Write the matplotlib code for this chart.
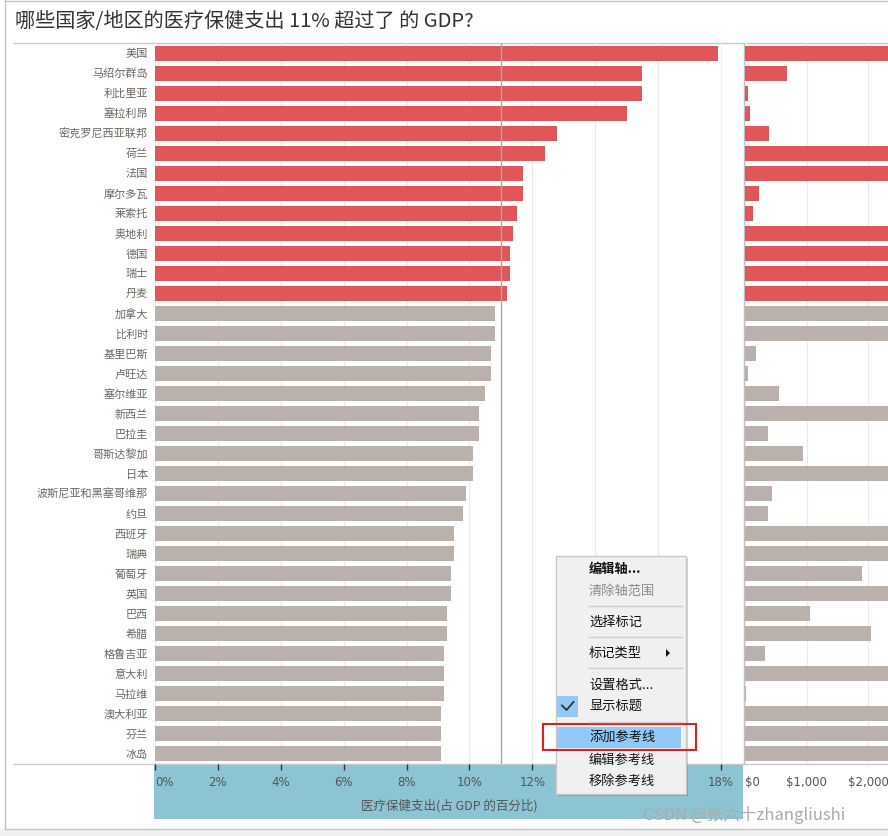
import matplotlib.pyplot as plt
from matplotlib.patches import Rectangle, Polygon
import numpy as np

plt.rcParams['font.family'] = ['Noto Sans CJK SC', 'DejaVu Sans']

# 国家/地区 (从上到下)
countries = ["美国", "马绍尔群岛", "利比里亚", "塞拉利昂", "密克罗尼西亚联邦", "荷兰",
             "法国", "摩尔多瓦", "莱索托", "奥地利", "德国", "瑞士", "丹麦", "加拿大",
             "比利时", "基里巴斯", "卢旺达", "塞尔维亚", "新西兰", "巴拉圭", "哥斯达黎加",
             "日本", "波斯尼亚和黑塞哥维那", "约旦", "西班牙", "瑞典", "葡萄牙", "英国",
             "巴西", "希腊", "格鲁吉亚", "意大利", "马拉维", "澳大利亚", "芬兰", "冰岛"]

# 医疗保健支出(占 GDP 的百分比)
pct_gdp = [17.9, 15.5, 15.5, 15.0, 12.8, 12.4, 11.7, 11.7, 11.5, 11.4, 11.3, 11.3,
           11.2, 10.8, 10.8, 10.7, 10.7, 10.5, 10.3, 10.3, 10.1, 10.1, 9.9, 9.8,
           9.5, 9.5, 9.4, 9.4, 9.3, 9.3, 9.2, 9.2, 9.2, 9.1, 9.1, 9.1]

# 人均医疗保健支出 (美元)
per_capita = [9403, 680, 54, 86, 394, 5202, 4959, 232, 135, 5039, 4819, 9674,
              6463, 5292, 4711, 184, 54, 556, 3554, 378, 945, 3703, 443, 378,
              2658, 6808, 1901, 3935, 1059, 2048, 330, 3258, 22, 6031, 4612, 4662]

threshold = 11
pct_ticks = [0, 2, 4, 6, 8, 10, 12, 14, 16, 18]
usd_ticks = [0, 1000, 2000]

RED = "#e15759"
GRAY = "#bab0ac"
W, H = 888, 836

fig = plt.figure(figsize=(W / 100, H / 100), dpi=100)


def box(x0, y0, x1, y1):
    return [x0 / W, 1 - y1 / H, (x1 - x0) / W, (y1 - y0) / H]


# 背景层：边框、坐标轴蓝色底
bg = fig.add_axes([0, 0, 1, 1], zorder=-1)
bg.set_xlim(0, W)
bg.set_ylim(H, 0)
bg.axis("off")
bg.add_patch(Rectangle((0, 829), W, 7, color="#f0f0f0", lw=0))
bg.plot([4.5, 4.5], [0, 828.5], color="#c4c4c4", lw=1)
bg.plot([4.5, W], [828.5, 828.5], color="#c4c4c4", lw=1)
bg.plot([4.5, W], [0.5, 0.5], color="#c4c4c4", lw=1)
bg.plot([14, W], [43, 43], color="#c8c8c8", lw=1)
bg.plot([14, W], [764, 764], color="#c8c8c8", lw=1)
bg.plot([744, 744], [43, 764], color="#c0c0c0", lw=1)
bg.add_patch(Rectangle((154, 765), 589, 54, color="#8cc4d4", lw=0))
bg.text(15, 21, "哪些国家/地区的医疗保健支出 11% 超过了 的 GDP?", fontsize=14.5,
        color="#333333", va="center", ha="left")

n = len(countries)
y = np.arange(n)
colors = [RED if v > threshold else GRAY for v in pct_gdp]

# 左侧：占 GDP 百分比
ax = fig.add_axes(box(155, 43, 743, 764))
ax.barh(y, pct_gdp, height=0.75, color=colors, zorder=2)
ax.axvline(threshold, color="#a8a8a8", lw=1, zorder=3)
ax.set_xlim(0, 18.7)
ax.set_ylim(n - 0.5, -0.5)
ax.set_xticks(pct_ticks)
# 14% 和 16% 被右键菜单挡住
ax.set_xticklabels(["" if t in (14, 16) else f"{t}%" for t in pct_ticks])
ax.set_yticks(y)
ax.set_yticklabels(countries)
ax.tick_params(axis="y", length=0, pad=5, labelsize=8, labelcolor="#6e6660")
ax.tick_params(axis="x", length=4, width=1, color="#333333", pad=5,
               labelsize=8.5, labelcolor="#555555")
for lab in ax.get_xticklabels():
    lab.set_fontfamily("DejaVu Sans")
ax.get_xticklabels()[0].set_ha("left")
ax.grid(axis="x", color="#ececec", lw=1, zorder=0)
ax.set_axisbelow(True)
for s in ax.spines.values():
    s.set_visible(False)
ax.patch.set_alpha(0)
ax.set_xlabel("医疗保健支出(占 GDP 的百分比)", fontsize=9, color="#555555", labelpad=7)

# 右侧：人均支出
ax2 = fig.add_axes(box(745, 43, 888, 764))
ax2.barh(y, per_capita, height=0.75, color=colors, zorder=2)
ax2.set_xlim(0, 2318)
ax2.set_ylim(n - 0.5, -0.5)
ax2.set_yticks([])
ax2.set_xticks(usd_ticks)
ax2.set_xticklabels(["$" + format(t, ",") for t in usd_ticks])
ax2.tick_params(axis="x", length=0, pad=9, labelsize=8.5, labelcolor="#555555")
for lab in ax2.get_xticklabels():
    lab.set_fontfamily("DejaVu Sans")
ax2.get_xticklabels()[0].set_ha("left")
ax2.grid(axis="x", color="#ececec", lw=1, zorder=0)
ax2.set_axisbelow(True)
for s in ax2.spines.values():
    s.set_visible(False)
ax2.patch.set_alpha(0)

# 前景层：右键菜单与水印
fg = fig.add_axes([0, 0, 1, 1], zorder=10)
fg.set_xlim(0, W)
fg.set_ylim(H, 0)
fg.axis("off")
fg.patch.set_alpha(0)
fg.add_patch(Rectangle((558, 558), 130, 238, color="#000000", alpha=0.18, lw=0))
fg.add_patch(Rectangle((555.5, 555.5), 130, 238, facecolor="#f0f0f0",
                       edgecolor="#c8c8c8", lw=1))
fg.add_patch(Rectangle((557, 727), 124, 21, color="#91c9f7", lw=0))
fg.add_patch(Rectangle((557, 696), 21, 21, color="#91c9f7", lw=0))
fg.plot([562, 566.5, 573.5], [705.5, 710, 702], color="#333333", lw=1.3)
fg.add_patch(Polygon([[666, 649], [666, 657], [670, 653]], closed=True,
                     color="#111111", lw=0))
for sy in [606, 637, 668, 722]:
    fg.plot([589, 682], [sy, sy], color="#d0d0d0", lw=1)

menu_items = [("编辑轴...", 569, "#111111", "bold"), ("清除轴范围", 591, "#8a8a8a", "normal"),
              ("选择标记", 622, "#111111", "normal"), ("标记类型", 653, "#111111", "normal"),
              ("设置格式...", 685, "#111111", "normal"), ("显示标题", 706, "#111111", "normal"),
              ("添加参考线", 737, "#111111", "normal"), ("编辑参考线", 760, "#111111", "normal"),
              ("移除参考线", 781, "#111111", "normal")]
for label, ty, col, wt in menu_items:
    fg.text(589, ty, label, fontsize=9.5, color=col, fontweight=wt, va="center", ha="left")

fg.add_patch(Rectangle((543, 724), 153, 26, fill=False, edgecolor="#e0201c", lw=1.5))
fg.text(643, 815, "CSDN @张六十zhangliushi", fontsize=12, color="#ababab",
        va="center", ha="left")

fig.savefig("out.png", dpi=100)
